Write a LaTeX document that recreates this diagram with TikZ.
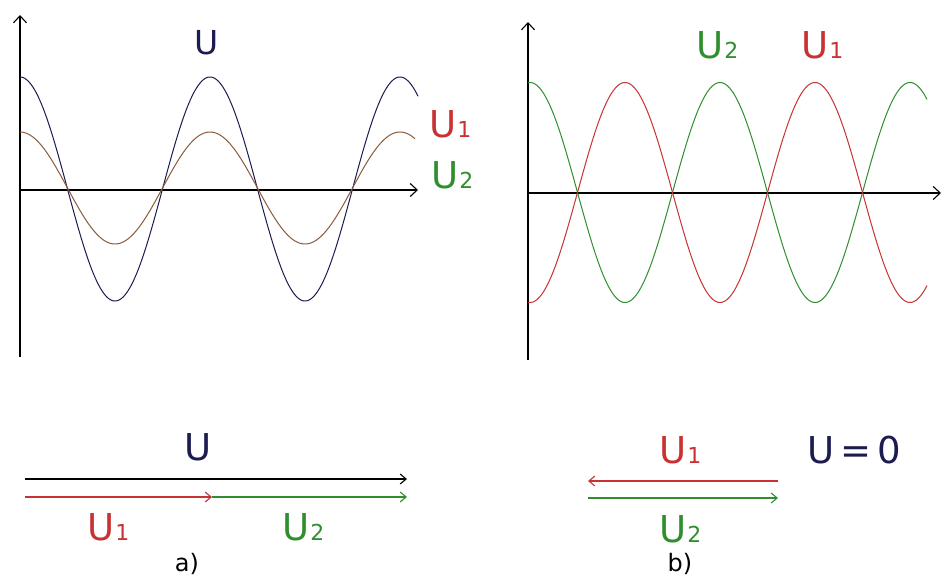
\documentclass[tikz,border=0pt]{standalone}
\usepackage{fontspec}
\setmainfont{DejaVu Sans}
\usetikzlibrary{arrows.meta}
\definecolor{navy}{HTML}{1C1C50}
\definecolor{ured}{HTML}{C83232}
\definecolor{ugreen}{HTML}{2F8F2F}
\definecolor{ubrown}{HTML}{8A5A3A}
\newcommand\myU[1]{U\kern1pt{\fontsize{22pt}{22pt}\selectfont #1}}
\tikzset{
  axis/.style={line width=1.1pt,black,-{Straight Barb[length=7pt,width=13pt]}},
  curve/.style={line width=1pt},
  vec/.style={line width=1.1pt,-{Straight Barb[length=6pt,width=10pt]}},
  lbl/.style={font=\fontsize{37pt}{37pt}\selectfont,inner sep=0pt},
  small/.style={font=\fontsize{24pt}{24pt}\selectfont,inner sep=0pt},
}
\begin{document}
\begin{tikzpicture}[x=1pt,y=-1pt]
\useasboundingbox[fill=white] (0,0) rectangle (941,578);
% ---------- panel a ----------
\coordinate (a0) at (20,357);
\coordinate (ay) at (20,15);
\coordinate (ah0) at (20,190);
\coordinate (ax) at (418,190);
\draw[axis] (a0) -- (ay);
\draw[axis] (ah0) -- (ax);
\draw[curve,navy] plot[domain=20:418,samples=240,smooth] (\x,{189-112*cos(1.894737*(\x-20))});
\draw[curve,ubrown] plot[domain=20:415,samples=240,smooth] (\x,{188-56*cos(1.894737*(\x-20))});
\node[lbl,navy,anchor=base,font=\fontsize{33pt}{33pt}\selectfont] (tU) at (207,55) {U};
\node[lbl,ured,anchor=base west] (tU1) at (429,137) {\myU{1}};
\node[lbl,ugreen,anchor=base west] (tU2) at (431,188) {\myU{2}};
% ---------- panel b ----------
\coordinate (b0) at (528,360);
\coordinate (by) at (528,22);
\coordinate (bh0) at (528,193);
\coordinate (bx) at (941,193);
\draw[axis] (b0) -- (by);
\draw[axis] (bh0) -- (bx);
\draw[curve,ugreen] plot[domain=528:927,samples=240,smooth] (\x,{192.5-110*cos(1.894737*(\x-530))});
\draw[curve,ured] plot[domain=528:927,samples=240,smooth] (\x,{192.5+110*cos(1.894737*(\x-530))});
\node[lbl,ugreen,anchor=base west] (rU2) at (696,59) {\myU{2}};
\node[lbl,ured,anchor=base west] (rU1) at (801,59) {\myU{1}};
% ---------- vectors a ----------
\coordinate (va0) at (25,479);
\coordinate (va1) at (407,479);
\coordinate (vb0) at (25,497);
\coordinate (vbm) at (212,497);
\coordinate (vb1) at (407,497);
\draw[vec,black] (va0) -- (va1);
\draw[vec,ured] (vb0) -- (vbm);
\draw[vec,ugreen] (vbm) -- (vb1);
\node[lbl,navy,anchor=base] (bU) at (198,460) {U};
\node[lbl,ured,anchor=base west] (bU1) at (87,540) {\myU{1}};
\node[lbl,ugreen,anchor=base west] (bU2) at (282,540) {\myU{2}};
\node[small,black,anchor=base] (la) at (187,571) {a)};
% ---------- vectors b ----------
\coordinate (vc0) at (778,481);
\coordinate (vc1) at (588,481);
\coordinate (vd0) at (588,498);
\coordinate (vd1) at (778,498);
\draw[vec,ured] (vc0) -- (vc1);
\draw[vec,ugreen] (vd0) -- (vd1);
\node[lbl,ured,anchor=base west] (cU1) at (659,463) {\myU{1}};
\node[lbl,ugreen,anchor=base west] (cU2) at (659,542) {\myU{2}};
\node[lbl,navy,anchor=base west] (cU) at (807,463) {U\,=\,0};
\node[small,black,anchor=base] (lb) at (680,571) {b)};
\end{tikzpicture}
\end{document}
